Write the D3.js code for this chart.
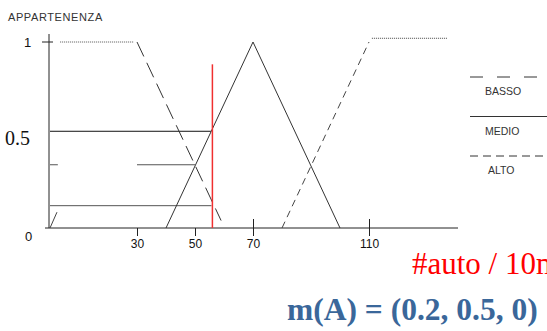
<!DOCTYPE html>
<html>
<head>
<meta charset="utf-8">
<script src="https://cdn.jsdelivr.net/npm/d3@7/dist/d3.min.js"></script>
<style>
  body { margin: 0; background: #fff; overflow: hidden; }
  svg { display: block; }
</style>
</head>
<body>
<div id="root"></div>
<script>
// data
var xTicks = [30, 50, 70, 110];
var bassoFlat = [[3.5, 1], [29, 1]];
var bassoSlope = [[30, 1], [59, 0.04]];
var medio = [[40, 0], [70, 1], [100, 0]];
var altoSlope = [[80, 0], [110, 1]];
var altoFlat = [[111, 1.02], [137, 1.02]];
var inputX = 56;
var inputTop = 0.88;
// horizontal cut lines: [level, from, to]
var cuts = [[0.52, 0, 55.5], [0.34, 0, 2.7], [0.34, 30, 50], [0.12, 0, 55.7]];
var stub = [[0, 0], [2.4, 0.085]];
var legendNames = ['BASSO', 'MEDIO', 'ALTO'];

var w = 547, h = 331;

var svg = d3.select('#root')
  .append('svg')
    .attr('width', w)
    .attr('height', h);

var x = d3.scaleLinear().domain([0, 140]).range([50, 456]);
var y = d3.scaleLinear().domain([0, 1]).range([228, 42]);

var line = d3.line()
  .x(function (d) { return x(d[0]); })
  .y(function (d) { return y(d[1]); });

// axes
svg.append('line')
    .attr('x1', 49).attr('x2', 49)
    .attr('y1', 34).attr('y2', y(0))
    .attr('stroke', '#222');
svg.append('line')
    .attr('x1', 42).attr('x2', 53)
    .attr('y1', y(1)).attr('y2', y(1))
    .attr('stroke', '#222');

var xAxis = svg.append('g')
    .attr('transform', 'translate(0,' + y(0) + ')')
    .call(d3.axisBottom(x).tickValues(xTicks).tickSize(8).tickSizeOuter(0).tickPadding(3));
xAxis.select('.domain').attr('d', 'M45,0H458').attr('stroke', '#222');
xAxis.selectAll('.tick line').attr('stroke', '#222')
    .attr('y1', function (d) { return d >= 70 ? -9 : 0; });
xAxis.selectAll('.tick text')
    .attr('fill', '#111')
    .style('font-family', 'Arial, Liberation Sans, sans-serif')
    .style('font-size', '12px');

// cut lines
svg.selectAll('.cut')
    .data(cuts)
  .enter().append('line')
    .attr('class', 'cut')
    .attr('x1', function (d) { return x(d[1]); })
    .attr('x2', function (d) { return x(d[2]); })
    .attr('y1', function (d) { return y(d[0]); })
    .attr('y2', function (d) { return y(d[0]); })
    .attr('stroke', function (d, i) { return i === 0 ? '#111' : '#555'; })
    .attr('stroke-width', 1);

svg.append('path').attr('d', line(stub))
    .attr('fill', 'none').attr('stroke', '#444');

// basso
svg.append('path').attr('d', line(bassoFlat))
    .attr('fill', 'none').attr('stroke', '#555')
    .attr('stroke-dasharray', '1,1');
svg.append('path').attr('d', line(bassoSlope))
    .attr('fill', 'none').attr('stroke', '#333')
    .attr('stroke-dasharray', '16,7');

// medio
svg.append('path').attr('d', line(medio))
    .attr('fill', 'none').attr('stroke', '#333');

// alto
svg.append('path').attr('d', line(altoSlope))
    .attr('fill', 'none').attr('stroke', '#444')
    .attr('stroke-dasharray', '7,5');
svg.append('path').attr('d', line(altoFlat))
    .attr('fill', 'none').attr('stroke', '#444')
    .attr('stroke-dasharray', '1,1');

// input value
svg.append('line')
    .attr('x1', x(inputX)).attr('x2', x(inputX))
    .attr('y1', y(inputTop)).attr('y2', y(0))
    .attr('stroke', '#f03030').attr('stroke-width', 1.5);

// y labels
svg.append('text').attr('x', 8).attr('y', 21)
    .style('font-family', 'Arial, Liberation Sans, sans-serif')
    .style('font-size', '11px').style('letter-spacing', '0.6px').attr('fill', '#333')
    .text('APPARTENENZA');
svg.append('text').attr('x', 24).attr('y', y(1) + 5)
    .style('font-family', 'Arial, Liberation Sans, sans-serif')
    .style('font-size', '13px').attr('fill', '#111')
    .text('1');
svg.append('text').attr('x', 5).attr('y', 145)
    .style('font-family', 'Times New Roman, Liberation Serif, serif')
    .style('font-size', '20px').attr('fill', '#111')
    .text('0.5');
svg.append('text').attr('x', 25).attr('y', y(0) + 13)
    .style('font-family', 'Arial, Liberation Sans, sans-serif')
    .style('font-size', '13px').attr('fill', '#111')
    .text('0');

// legend
var legend = svg.selectAll('.legend')
    .data(legendNames)
  .enter().append('g')
    .attr('class', 'legend')
    .attr('transform', function (d, i) { return 'translate(470,' + (77 + i * 39.5) + ')'; });
legend.append('line')
    .attr('x1', 0).attr('x2', 80)
    .attr('stroke', '#333')
    .attr('stroke-dasharray', function (d, i) { return ['13,14', null, '8,5'][i]; });
legend.append('text')
    .attr('x', function (d, i) { return i === 2 ? 18 : 15; })
    .attr('y', 18)
    .style('font-family', 'Arial, Liberation Sans, sans-serif')
    .style('font-size', '10.5px').attr('fill', '#333')
    .text(function (d) { return d; });

// captions (the red one runs off the right edge, as in the original slide)
svg.append('text').attr('x', 412).attr('y', 274)
    .style('font-family', 'Times New Roman, Liberation Serif, serif')
    .style('font-size', '31px').attr('fill', '#ff0000')
    .text('#auto / 10m');
svg.append('text').attr('x', 287).attr('y', 320)
    .style('font-family', 'Times New Roman, Liberation Serif, serif')
    .style('font-size', '31.5px').style('font-weight', 'bold').attr('fill', '#3a679a')
    .text('m(A) = (0.2, 0.5, 0)');
</script>
</body>
</html>
